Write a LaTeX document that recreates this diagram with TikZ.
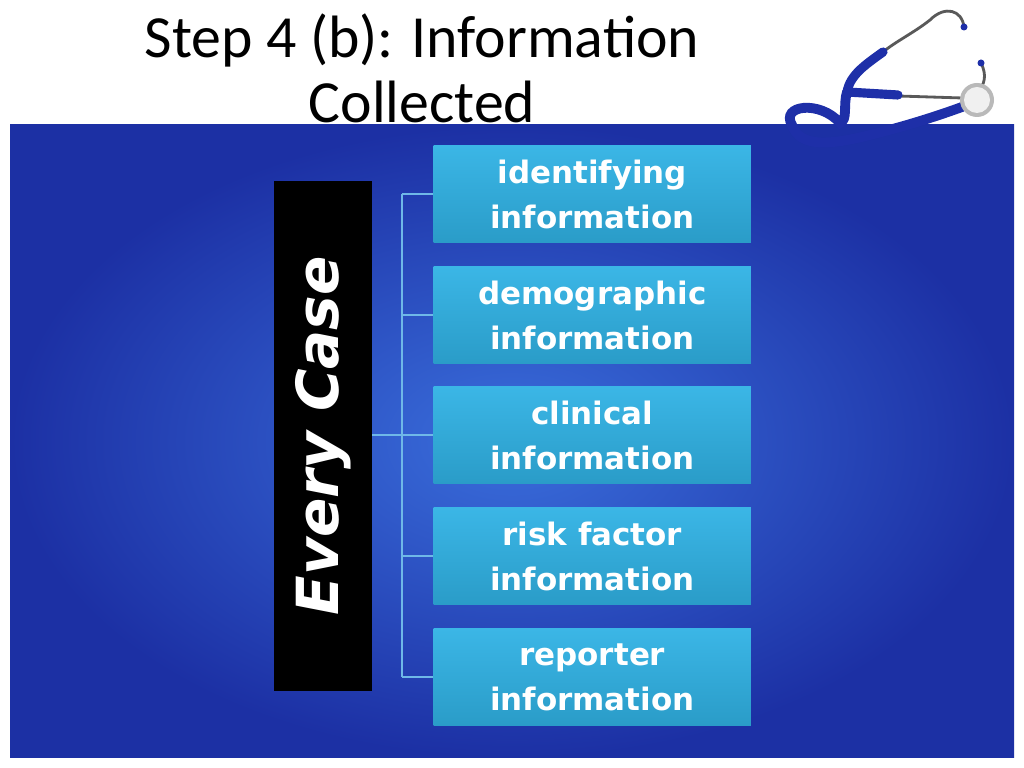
\documentclass[tikz,border=0pt]{standalone}
\usepackage{fontspec}
\setmainfont{Carlito}
\newfontfamily\boxfont{DejaVu Sans}
\usetikzlibrary{positioning}
\definecolor{panelin}{HTML}{3A6EDC}
\definecolor{panelout}{HTML}{1C30A4}
\definecolor{itemtop}{HTML}{3BB6E6}
\definecolor{itembot}{HTML}{2A9CC8}
\definecolor{linkblue}{HTML}{6FB8E8}
\definecolor{tube}{HTML}{1E2FA8}
\begin{document}
\begin{tikzpicture}[x=0.01cm, y=-0.01cm,
    item/.style={rectangle, top color=itemtop, bottom color=itembot, minimum width=3.17cm, minimum height=0.97cm, align=center, text=white, font=\boxfont\bfseries\fontsize{8.8}{12.8}\selectfont, anchor=north west},
    link/.style={draw=linkblue, line width=0.5pt},
    wire/.style={draw=gray!70!black, line width=0.8pt}
]
\useasboundingbox (0,0) rectangle (1024,768);
\fill[white] (0,0) rectangle (1024,768);
% panel
\shade[inner color=panelin, outer color=panelout] (10,125) rectangle (1014,758);
% title
\node[align=center, font=\fontsize{17}{18.5}\selectfont] (title) at (422,68) {Step 4 (b): Information\\Collected};
% stethoscope
\draw[wire] (964,27) .. controls (962,10) and (945,5) .. (930,20) .. controls (915,32) and (895,42) .. (883,52);
\draw[wire] (981,63) .. controls (987,75) and (985,85) .. (977,92);
\draw[wire] (898,96) -- (962,98);
\fill[tube] (964,27) circle (3.5);
\fill[tube] (981,63) circle (3.5);
\draw[tube, line width=2.6pt, line cap=round] (883,52) .. controls (865,65) and (850,75) .. (847,92) -- (898,95);
\draw[tube, line width=2.8pt, line cap=round] (847,92) .. controls (843,105) and (848,120) .. (840,123) .. controls (820,100) and (780,105) .. (792,125) .. controls (800,148) and (830,145) .. (870,135) .. controls (910,125) and (940,115) .. (962,107);
\fill[gray!55] (977,100) circle (17);
\fill[gray!12] (977,100) circle (13);
% left box
\node[fill=black, minimum width=0.98cm, minimum height=5.1cm, anchor=north west] (every) at (273,180) {};
\node[rotate=90, text=white, font=\boxfont\bfseries\itshape\fontsize{16.5}{20}\selectfont] (everytext) at (every.center) {Every Case};
% items
\node[item] (ident) at (433,145) {identifying\\information};
\node[item] (demo) at (433,266) {demographic\\information};
\node[item] (clin) at (433,386) {clinical\\information};
\node[item] (risk) at (433,507) {risk factor\\information};
\node[item] (rep) at (433,628) {reporter\\information};
% connectors
\coordinate (spine) at (402,435);
\draw[link] (every.east |- spine) -- (spine);
\draw[link] (spine |- ident.west) -- (spine |- rep.west);
\foreach \b in {ident,demo,clin,risk,rep}
  \draw[link] (spine |- \b.west) -- (\b.west);
\end{tikzpicture}
\end{document}
